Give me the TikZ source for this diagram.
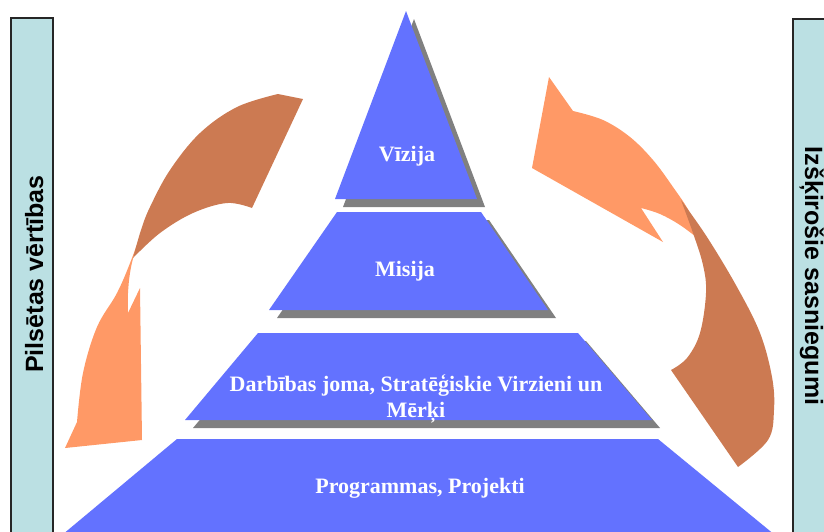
\documentclass[tikz,border=0pt]{standalone}
\usepackage{fontspec}
\setmainfont{Liberation Serif}
\newfontfamily\sidefont{Liberation Sans}
\definecolor{pyrblue}{RGB}{99,114,255}
\definecolor{shadowgray}{RGB}{128,128,128}
\definecolor{ribbondark}{RGB}{204,122,82}
\definecolor{ribbonlight}{RGB}{255,153,102}
\definecolor{barcyan}{RGB}{187,224,227}
\begin{document}
\begin{tikzpicture}[x=1pt,y=-1pt,
  pyr/.style={fill=pyrblue},
  pyrshadow/.style={fill=shadowgray},
  pyrtext/.style={text=white,font=\fontsize{22}{26}\selectfont\bfseries,align=center,inner sep=0pt},
  sidebar/.style={fill=barcyan,draw=black!85,line width=1.2pt},
  sidetext/.style={font=\sidefont\fontsize{25}{30}\selectfont\bfseries,inner sep=0pt,anchor=base},
  darkribbon/.style={fill=ribbondark},
  lightribbon/.style={fill=ribbonlight},
  curve/.style={smooth,tension=0.6}]
\useasboundingbox (0,0) rectangle (824,531);
\clip (0,0) rectangle (824,531);

% side bars
\draw[sidebar] (11,18) rectangle (53,545);
\draw[sidebar] (793,19) rectangle (836,545);
\node[sidetext,rotate=90] (values) at (43,274) {Pilsētas vērtības};
\node[sidetext,rotate=-90] (achievements) at (805,276) {Izšķirošie sasniegumi};

% pyramid shadows
\begin{scope}[shift={(8,8)}]
  \fill[pyrshadow] (406,11) -- (477,199) -- (335,199) -- cycle;
  \fill[pyrshadow] (337,212) -- (481,212) -- (548,310) -- (269,310) -- cycle;
  \fill[pyrshadow] (258,333) -- (578,333) -- (652,420) -- (185,420) -- cycle;
\end{scope}

% pyramid levels
\fill[pyr] (406,11) -- (477,199) -- (335,199) -- cycle;
\fill[pyr] (337,212) -- (481,212) -- (548,310) -- (269,310) -- cycle;
\fill[pyr] (258,333) -- (578,333) -- (652,420) -- (185,420) -- cycle;
\fill[pyr] (177,439) -- (658,439) -- (781,540) -- (56,540) -- cycle;

\node[pyrtext,anchor=base] (vision) at (407,161) {Vīzija};
\node[pyrtext,anchor=base] (mission) at (405,276) {Misija};
\node[pyrtext] (goals) at (416,399) {Darbības joma, Stratēģiskie Virzieni un\\Mērķi};
\node[pyrtext,anchor=base] (programs) at (420,493) {Programmas, Projekti};

% left ribbon arrow
\fill[lightribbon] (148,213) -- plot[curve] coordinates {(148,213)(132,258)(117,293)(97,327)(83,373)(77,422)}
  -- (65,448) -- (142,440) -- (140,288) -- (128,313)
  -- plot[curve] coordinates {(128,313)(128,293)(130,273)(134,255)(142,232)} -- cycle;
\fill[darkribbon] (303,99) -- (252,208)
  -- plot[curve] coordinates {(252,208)(227,203)(193,213)(160,233)(133,258)}
  -- plot[curve] coordinates {(133,258)(141,230)(150,207)(170,170)(200,133)(237,107)(278,94)}
  -- (303,99) -- cycle;

% right ribbon arrow
\fill[lightribbon] (549,77) -- (573,111)
  -- plot[curve] coordinates {(573,111)(603,120)(630,137)(653,160)(673,187)(690,213)(700,240)}
  -- plot[curve] coordinates {(700,240)(680,225)(660,214)(641,208)}
  -- (663,242) -- (532,168) -- cycle;
\fill[darkribbon] (681,200)
  -- plot[curve] coordinates {(681,200)(707,237)(737,287)(760,333)(772,377)(774,410)(768,440)(738,467)}
  -- (671,370)
  -- plot[curve] coordinates {(671,370)(687,358)(700,333)(706,293)(703,265)(693,233)(681,200)} -- cycle;
\end{tikzpicture}
\end{document}
